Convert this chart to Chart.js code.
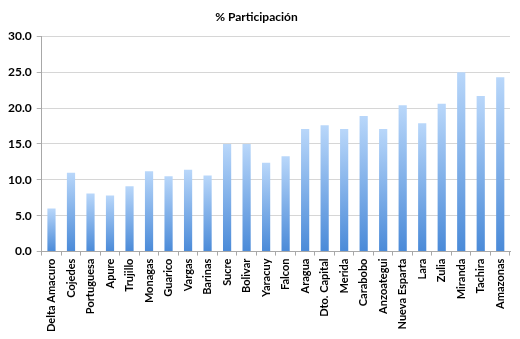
<!DOCTYPE html>
<html>
<head>
<meta charset="utf-8">
<script src="https://cdn.jsdelivr.net/npm/chart.js@4/dist/chart.umd.min.js"></script>
<style>
  html, body { margin: 0; padding: 0; background: #fff; }
  #wrap { width: 520px; height: 339px; }
</style>
</head>
<body>
<div id="wrap"><canvas id="chart"></canvas></div>
<script>
const ESTADOS = [
  'Delta Amacuro', 'Cojedes', 'Portuguesa', 'Apure', 'Trujillo', 'Monagas',
  'Guarico', 'Vargas', 'Barinas', 'Sucre', 'Bolivar', 'Yaracuy', 'Falcon',
  'Aragua', 'Dto. Capital', 'Merida', 'Carabobo', 'Anzoategui',
  'Nueva Esparta', 'Lara', 'Zulia', 'Miranda', 'Tachira', 'Amazonas'
];
const PARTICIPACION = [
  6.0, 11.0, 8.1, 7.8, 9.1, 11.2,
  10.5, 11.4, 10.6, 15.0, 15.0, 12.4, 13.3,
  17.1, 17.6, 17.1, 18.9, 17.1,
  20.4, 17.9, 20.6, 25.0, 21.7, 24.3
];
const Y_MAX = 30;
const Y_STEP = 5;

const FONT = "Lato, 'Open Sans', sans-serif";

// each bar gets its own light-to-dark gradient, top to bottom
function barGradient(ctx) {
  const chart = ctx.chart;
  const y = chart.scales.y;
  if (!y || ctx.dataIndex === undefined) return '#7fb2ea';
  const top = y.getPixelForValue(PARTICIPACION[ctx.dataIndex]);
  const bottom = y.getPixelForValue(0);
  if (!isFinite(top) || !isFinite(bottom) || top === bottom) return '#7fb2ea';
  const g = chart.ctx.createLinearGradient(0, top, 0, bottom);
  g.addColorStop(0, '#b9d7fa');
  g.addColorStop(1, '#4a8ad8');
  return g;
}

new Chart(document.getElementById('chart'), {
  type: 'bar',
  data: {
    labels: ESTADOS,
    datasets: [{
      label: '% Participación',
      data: PARTICIPACION,
      backgroundColor: barGradient,
      borderWidth: 0,
      barPercentage: 0.42,
      categoryPercentage: 1
    }]
  },
  options: {
    responsive: true,
    maintainAspectRatio: false,
    animation: false,
    layout: { padding: { left: 3, right: 10, top: 0, bottom: 4 } },
    plugins: {
      legend: { display: false },
      tooltip: { enabled: false },
      title: {
        display: true,
        text: '% Participación',
        color: '#000',
        font: { family: FONT, size: 12, weight: 'bold' },
        padding: { top: 10, bottom: 12 }
      }
    },
    scales: {
      y: {
        min: 0,
        max: Y_MAX,
        ticks: {
          stepSize: Y_STEP,
          color: '#000',
          padding: 5,
          font: { family: FONT, size: 12, weight: 'bold' },
          callback: v => v.toFixed(1)
        },
        grid: { color: '#d6d6d6', tickLength: 5, tickColor: '#b0b0b0' },
        border: { color: '#a8a8a8' }
      },
      x: {
        ticks: {
          color: '#000',
          minRotation: 90,
          maxRotation: 90,
          autoSkip: false,
          padding: 3,
          font: { family: FONT, size: 11, weight: 'bold' }
        },
        grid: { drawOnChartArea: false, tickLength: 4, color: '#a8a8a8' },
        border: { color: '#a8a8a8' }
      }
    }
  }
});
</script>
</body>
</html>
